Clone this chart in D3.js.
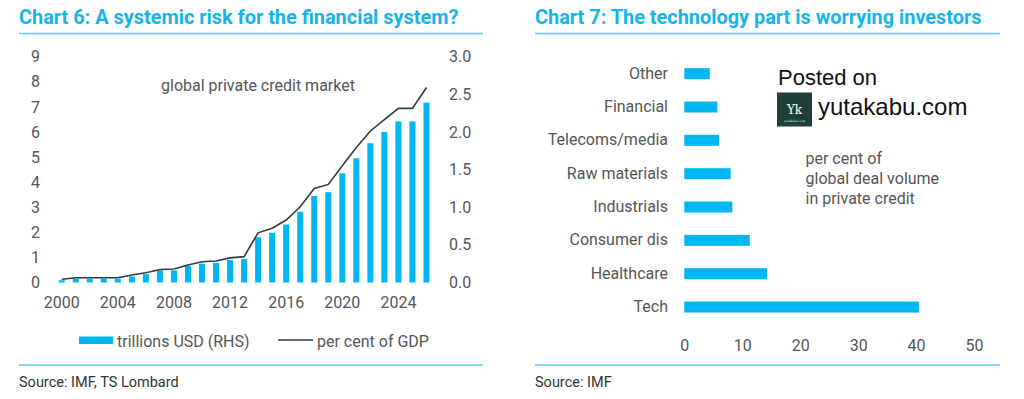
<!DOCTYPE html>
<html>
<head>
<meta charset="utf-8">
<script src="https://cdn.jsdelivr.net/npm/d3@7"></script>
<style>
  body { margin: 0; background: #fff; }
  svg { display: block; font-family: Roboto, "Noto Sans", sans-serif; }
</style>
</head>
<body>
<svg id="chart" width="1024" height="399"></svg>
<script>
// chart 6 data
const years = [2000, 2001, 2002, 2003, 2004, 2005, 2006, 2007, 2008, 2009, 2010, 2011, 2012, 2013,
               2014, 2015, 2016, 2017, 2018, 2019, 2020, 2021, 2022, 2023, 2024, 2025, 2026];
const yearTicks = [2000, 2004, 2008, 2012, 2016, 2020, 2024];
const creditUSD = [0.03, 0.05, 0.05, 0.05, 0.05, 0.08, 0.11, 0.16, 0.16, 0.22, 0.25, 0.26, 0.30, 0.31,
                   0.60, 0.66, 0.77, 0.94, 1.15, 1.20, 1.45, 1.65, 1.85, 2.00, 2.14, 2.14, 2.39];
const creditGDP = [0.13, 0.19, 0.19, 0.19, 0.19, 0.30, 0.39, 0.52, 0.54, 0.70, 0.83, 0.86, 0.98, 1.03,
                   1.98, 2.16, 2.49, 3.02, 3.75, 3.91, 4.65, 5.38, 6.04, 6.49, 6.94, 6.94, 7.77];
const leftTicks = [0, 1, 2, 3, 4, 5, 6, 7, 8, 9];
const rightTicks = [0, 0.5, 1, 1.5, 2, 2.5, 3];

// chart 7 data
const sectors = ["Other", "Financial", "Telecoms/media", "Raw materials", "Industrials",
                 "Consumer dis", "Healthcare", "Tech"];
const dealShare = [4.4, 5.7, 6.0, 8.0, 8.3, 11.3, 14.3, 40.5];
const shareTicks = [0, 10, 20, 30, 40, 50];

const blue = "#00b7f1";
const titleBlue = "#14b4ec";
const ruleBlue = "#5ccdf2";
const grey = "#555";

const svg = d3.select("#chart");
svg.append("rect").attr("width", 1024).attr("height", 399).attr("fill", "#fff");

// titles, rules, sources
function frame(x0, x1, title, source) {
  svg.append("text")
     .attr("x", x0).attr("y", 24)
     .attr("font-size", 19.9).attr("font-weight", "bold")
     .attr("fill", titleBlue)
     .text(title);
  svg.append("line")
     .attr("x1", x0).attr("x2", x1).attr("y1", 33.5).attr("y2", 33.5)
     .attr("stroke", ruleBlue).attr("stroke-width", 1.5);
  svg.append("line")
     .attr("x1", x0).attr("x2", x1).attr("y1", 365).attr("y2", 365)
     .attr("stroke", ruleBlue).attr("stroke-width", 1.5);
  svg.append("text")
     .attr("x", x0).attr("y", 386.5)
     .attr("font-size", 14.5).attr("fill", "#333")
     .text(source);
}
frame(19, 483, "Chart 6: A systemic risk for the financial system?", "Source: IMF, TS Lombard");
frame(535, 1000, "Chart 7: The technology part is worrying investors", "Source: IMF");

// ---- chart 6 ----
let x6 = d3.scaleBand()
           .domain(years)
           .range([54.7, 433.5])
           .paddingInner(0.57)
           .paddingOuter(0.285);
let yLeft = d3.scaleLinear().domain([0, 9]).range([282.5, 56.7]);
let yRight = d3.scaleLinear().domain([0, 3]).range([282.5, 56.7]);

let axisLeft = svg.append("g")
                  .attr("transform", "translate(40,0)")
                  .call(d3.axisLeft(yLeft).tickValues(leftTicks).tickSize(0).tickPadding(0));
let axisRight = svg.append("g")
                   .attr("transform", "translate(449,0)")
                   .call(d3.axisRight(yRight).tickValues(rightTicks).tickSize(0).tickPadding(0)
                           .tickFormat(d3.format(".1f")));
let axisBottom = svg.append("g")
                    .attr("transform", "translate(0,297)")
                    .call(d3.axisBottom(x6).tickValues(yearTicks).tickSize(0).tickPadding(0));

[axisLeft, axisRight, axisBottom].forEach(g => {
  g.select(".domain").remove();
  g.selectAll("text")
   .attr("font-family", "Roboto, sans-serif")
   .attr("font-size", 16)
   .attr("fill", grey);
});

svg.append("g")
   .selectAll("rect")
   .data(years)
   .enter()
   .append("rect")
   .attr("x", d => x6(d))
   .attr("width", x6.bandwidth())
   .attr("y", (d, i) => yRight(creditUSD[i]))
   .attr("height", (d, i) => yRight(0) - yRight(creditUSD[i]))
   .attr("fill", blue);

let gdpLine = d3.line()
                .x(d => x6(d.year) + x6.bandwidth() / 2)
                .y(d => yLeft(d.value));

svg.append("path")
   .datum(years.map((year, i) => ({ year: year, value: creditGDP[i] })))
   .attr("d", gdpLine)
   .attr("fill", "none")
   .attr("stroke", "#2a3c44")
   .attr("stroke-width", 1.6);

svg.append("text")
   .attr("x", 161).attr("y", 91)
   .attr("font-size", 16).attr("fill", grey)
   .text("global private credit market");

// legend
svg.append("rect")
   .attr("x", 79).attr("y", 336.5).attr("width", 34).attr("height", 7.5)
   .attr("fill", blue);
svg.append("text")
   .attr("x", 117).attr("y", 346.5).attr("font-size", 16).attr("fill", grey)
   .text("trillions USD (RHS)");
svg.append("line")
   .attr("x1", 278).attr("x2", 313).attr("y1", 340).attr("y2", 340)
   .attr("stroke", "#2a3c44").attr("stroke-width", 1.6);
svg.append("text")
   .attr("x", 317).attr("y", 346.5).attr("font-size", 16).attr("fill", grey)
   .text("per cent of GDP");

// ---- chart 7 ----
let x7 = d3.scaleLinear().domain([0, 50]).range([684.3, 974]);
let y7 = d3.scaleBand()
           .domain(sectors)
           .range([57, 323.7])
           .paddingInner(0.67)
           .paddingOuter(0.335);

let axisSector = svg.append("g")
                    .attr("transform", "translate(668,0)")
                    .call(d3.axisLeft(y7).tickSize(0).tickPadding(0));
let axisShare = svg.append("g")
                   .attr("transform", "translate(0,339.3)")
                   .call(d3.axisBottom(x7).tickValues(shareTicks).tickSize(0).tickPadding(0));

[axisSector, axisShare].forEach(g => {
  g.select(".domain").remove();
  g.selectAll("text")
   .attr("font-family", "Roboto, sans-serif")
   .attr("font-size", 16)
   .attr("fill", grey);
});

svg.append("g")
   .selectAll("rect")
   .data(sectors)
   .enter()
   .append("rect")
   .attr("x", x7(0))
   .attr("y", d => y7(d))
   .attr("height", y7.bandwidth())
   .attr("width", (d, i) => x7(dealShare[i]) - x7(0))
   .attr("fill", blue);

let note = svg.append("text")
              .attr("font-size", 16).attr("fill", grey);
["per cent of", "global deal volume", "in private credit"].forEach((line, i) => {
  note.append("tspan").attr("x", 805.5).attr("y", 163.5 + i * 20).text(line);
});

// watermark
svg.append("text")
   .attr("x", 778).attr("y", 84.5)
   .attr("font-family", "'Liberation Sans', Arial, sans-serif")
   .attr("font-size", 22).attr("fill", "#111")
   .text("Posted on");
svg.append("rect")
   .attr("x", 777).attr("y", 92.5).attr("width", 35).attr("height", 34)
   .attr("fill", "#1f3f3b");
svg.append("text")
   .attr("x", 794.5).attr("y", 114)
   .attr("text-anchor", "middle")
   .attr("font-family", "'DejaVu Serif', serif")
   .attr("font-size", 12).attr("fill", "#fff")
   .text("Yk");
svg.append("text")
   .attr("x", 794.5).attr("y", 122)
   .attr("text-anchor", "middle")
   .attr("font-family", "'DejaVu Serif', serif")
   .attr("font-size", 3).attr("fill", "#dfe")
   .text("yutakabu.com");
svg.append("text")
   .attr("x", 818).attr("y", 115)
   .attr("font-family", "'Liberation Sans', Arial, sans-serif")
   .attr("font-size", 24).attr("fill", "#111")
   .text("yutakabu.com");
</script>
</body>
</html>
